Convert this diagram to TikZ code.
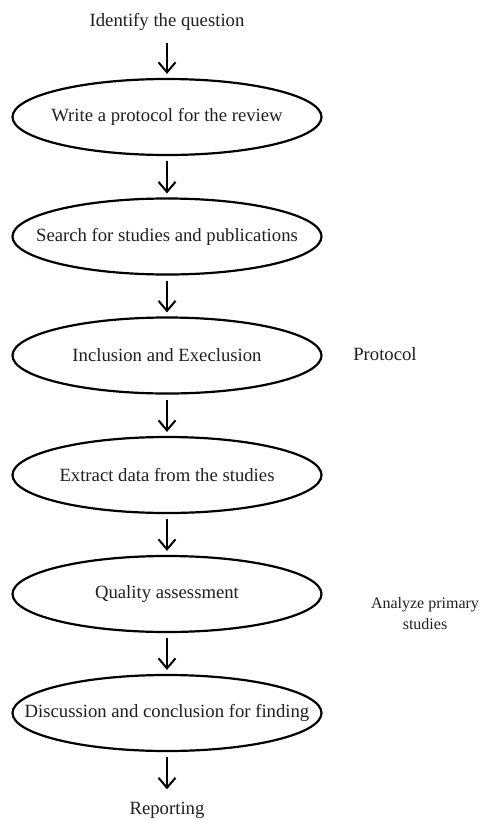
\documentclass[tikz,border=0pt]{standalone}
\usepackage{fontspec}
\setmainfont{Liberation Serif}
\usetikzlibrary{shapes.geometric,arrows.meta}
\definecolor{ink}{gray}{0.12}
\newcommand{\zw}[1]{\makebox[0pt][c]{#1}}
\begin{document}
\begin{tikzpicture}[x=1pt,y=-1pt,
  every node/.style={font=\fontsize{18.7}{22}\selectfont, text=ink},
  stage/.style={ellipse, draw=black, line width=2.2pt, minimum width=309pt, minimum height=76pt, inner sep=0pt},
  lbl/.style={inner sep=0pt, text height=13pt, text depth=4pt},
  flow/.style={-{Straight Barb[length=10pt,width=17pt,line width=2pt]}, line width=2pt, draw=black, shorten <=5pt, shorten >=4pt}
]
\useasboundingbox (0,0) rectangle (480,820);
\node[lbl] (q) at (167,22) {Identify the question};
\node[stage] (e1) at (167,117) {\zw{Write a protocol for the review}};
\node[stage] (e2) at (167,236.5) {\zw{Search for studies and publications}};
\node[stage] (e3) at (167,355.5) {\zw{Inclusion and Execlusion}};
\node[stage] (e4) at (167,475) {\zw{Extract data from the studies}};
\node[stage] (e5) at (167,594) {\zw{Quality assessment}};
\node[stage] (e6) at (167,713) {\zw{Discussion and conclusion for finding}};
\node[lbl] (r) at (167,810) {Reporting};
\node[lbl] (p) at (385,356) {Protocol};
\node[align=center, inner sep=0pt, font=\fontsize{16}{21}\selectfont] (a) at (425,614) {Analyze primary\\studies};
\draw[flow, shorten <=12pt] (q) -- (e1);
\draw[flow] (e1) -- (e2);
\draw[flow] (e2) -- (e3);
\draw[flow] (e3) -- (e4);
\draw[flow] (e4) -- (e5);
\draw[flow] (e5) -- (e6);
\draw[flow, shorten >=12pt] (e6) -- (r);
\end{tikzpicture}
\end{document}
